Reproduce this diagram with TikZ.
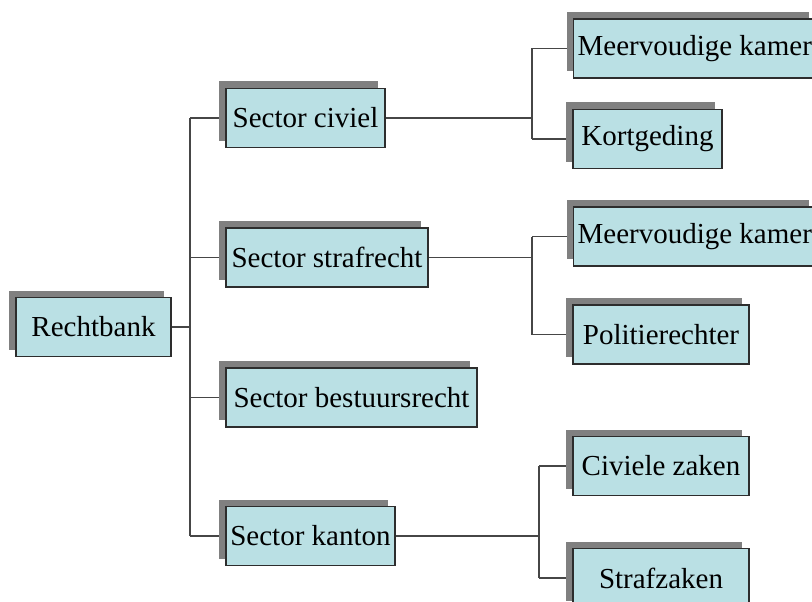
\documentclass[tikz,border=0pt]{standalone}
\usepackage{fontspec}
\setmainfont{Liberation Serif}
\usetikzlibrary{shadows,backgrounds}

\definecolor{boxfill}{RGB}{186,224,228}
\definecolor{boxline}{RGB}{45,45,45}
\definecolor{shade}{RGB}{128,128,128}
\definecolor{wire}{RGB}{70,70,70}

\tikzset{
  unit/.style={draw=boxline,fill=boxfill,line width=1.2pt,minimum height=59pt,inner sep=4pt,
    font=\fontsize{29}{34}\selectfont,
    general shadow={fill=shade,shadow xshift=-7pt,shadow yshift=7pt}},
  link/.style={draw=wire,line width=1.1pt}
}

\begin{document}
\begin{tikzpicture}[x=1pt,y=-1pt]
\clip (0,0) rectangle (812,602);

\node (R) at (93.5,327) [unit,minimum width=155pt] {Rechtbank};

\node (S1) at (305.5,118) [unit,minimum width=159pt] {Sector civiel};
\node (S2) at (327,257.5) [unit,minimum width=202pt] {Sector strafrecht};
\node (S3) at (351.5,397.5) [unit,minimum width=251pt] {Sector bestuursrecht};
\node (S4) at (310.5,536) [unit,minimum width=169pt] {Sector kanton};

\node (K1) at (573,48.5) [unit,anchor=west] {Meervoudige kamer};
\node (K2) at (647.5,139) [unit,minimum width=149pt] {Kortgeding};
\node (K3) at (573,236.5) [unit,anchor=west] {Meervoudige kamer};
\node (K4) at (661,334.5) [unit,minimum width=176pt] {Politierechter};
\node (K5) at (661,466) [unit,minimum width=176pt] {Civiele zaken};
\node (K6) at (661,578) [unit,minimum width=176pt] {Strafzaken};

\coordinate (b0) at (190,0);
\coordinate (b1) at (532,0);
\coordinate (b2) at (539,0);

\begin{pgfonlayer}{background}
\draw [link] (R.east) -- (b0 |- R.east);
\draw [link] (b0 |- S1.west) -- (b0 |- S4.west);
\draw [link] (b0 |- S1.west) -- (S1.west);
\draw [link] (b0 |- S2.west) -- (S2.west);
\draw [link] (b0 |- S3.west) -- (S3.west);
\draw [link] (b0 |- S4.west) -- (S4.west);

\draw [link] (S1.east) -- (b1 |- S1.east);
\draw [link] (b1 |- K1.west) -- (b1 |- K2.west);
\draw [link] (b1 |- K1.west) -- (K1.west);
\draw [link] (b1 |- K2.west) -- (K2.west);

\draw [link] (S2.east) -- (b1 |- S2.east);
\draw [link] (b1 |- K3.west) -- (b1 |- K4.west);
\draw [link] (b1 |- K3.west) -- (K3.west);
\draw [link] (b1 |- K4.west) -- (K4.west);

\draw [link] (S4.east) -- (b2 |- S4.east);
\draw [link] (b2 |- K5.west) -- (b2 |- K6.west);
\draw [link] (b2 |- K5.west) -- (K5.west);
\draw [link] (b2 |- K6.west) -- (K6.west);
\end{pgfonlayer}

\end{tikzpicture}
\end{document}
